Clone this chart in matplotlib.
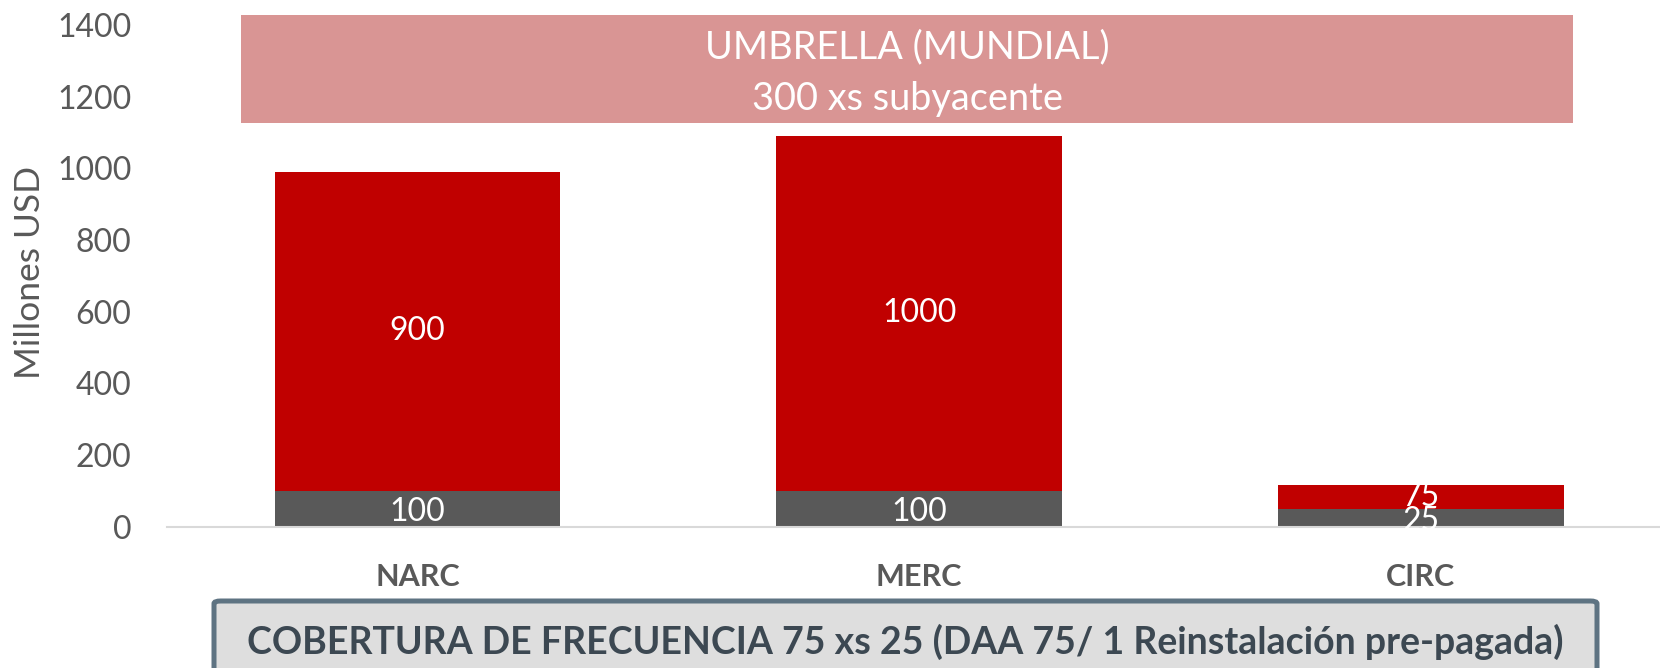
import matplotlib
matplotlib.use("Agg")
import matplotlib.pyplot as plt
from matplotlib.patches import FancyBboxPatch
import numpy as np

plt.rcParams['font.family'] = ['Lato', 'DejaVu Sans']

# ---- data ----
categories = ["NARC", "MERC", "CIRC"]
retention = [100, 100, 50]          # gray segment heights
limit = [890, 990, 65]              # red segment heights
retention_labels = ["100", "100", "25"]
limit_labels = ["900", "1000", "75"]
umbrella_base = 1127
umbrella_size = 300
umbrella_text = "UMBRELLA (MUNDIAL)\n300 xs subyacente"
yticks = [0, 200, 400, 600, 800, 1000, 1200, 1400]
ylabel = "Millones USD"
footer_text = "COBERTURA DE FRECUENCIA 75 xs 25 (DAA 75/ 1 Reinstalación pre-pagada)"

RED = "#C00000"
GRAY = "#595959"
PINK = "#D99594"
TXT = "#595959"

W, H = 1660, 668
fig = plt.figure(figsize=(W / 100, H / 100), dpi=100)
ax = fig.add_axes([166.7 / W, (H - 526.6) / H, 1504.8 / W, 501.6 / H])

x = np.arange(len(categories))
bw = 0.57
ax.bar(x, retention, width=bw, color=GRAY, zorder=2)
ax.bar(x, limit, width=bw, bottom=retention, color=RED, zorder=2)

for i in range(len(categories)):
    ax.text(x[i], retention[i] / 2 - 9, retention_labels[i], ha="center", va="center",
            color="white", fontsize=23, zorder=5)
    ax.text(x[i], retention[i] + limit[i] / 2, limit_labels[i], ha="center", va="center",
            color="white", fontsize=23, zorder=5)

# umbrella layer
um_left, um_right = -0.351, 2.303
ax.bar((um_left + um_right) / 2, umbrella_size, width=um_right - um_left,
       bottom=umbrella_base, color=PINK, clip_on=False, zorder=2)
ax.text((um_left + um_right) / 2, umbrella_base + umbrella_size / 2 - 12, umbrella_text,
        ha="center", va="center", color="white", fontsize=27.3, linespacing=1.55,
        zorder=5, clip_on=False)

ax.set_xlim(-0.5, 2.5)
ax.set_ylim(0, 1400)
ax.set_yticks(yticks)
ax.set_yticklabels([str(v) for v in yticks], fontsize=23, color=TXT)
ax.tick_params(axis="y", length=0, pad=25.5)
ax.set_xticks(x)
ax.set_xticklabels(categories, fontsize=22, fontweight="bold", color=TXT)
ax.tick_params(axis="x", length=0, pad=26)
for s in ["top", "right", "left"]:
    ax.spines[s].set_visible(False)
ax.spines["bottom"].set_color("#D9D9D9")
ax.spines["bottom"].set_linewidth(1.5)
ax.set_ylabel(ylabel, fontsize=25.5, color=TXT)
ax.yaxis.set_label_coords(-(166.7 - 46) / 1504.8, (526.6 - 272) / 501.6)

# footer box
bx0, bx1 = 214 / W, 1597 / W
by1 = (H - 601) / H
box = FancyBboxPatch((bx0, -0.05), bx1 - bx0, by1 + 0.05,
                     boxstyle="round,pad=0,rounding_size=0.004",
                     transform=fig.transFigure, facecolor="#DEDEDE",
                     edgecolor="#5E7382", linewidth=3.6, zorder=1)
fig.patches.append(box)
fig.text((bx0 + bx1) / 2, (H - 641.5) / H, footer_text, ha="center", va="center",
         fontsize=27, fontweight="bold", color="#3C4852")

fig.savefig("out.png", dpi=100)
